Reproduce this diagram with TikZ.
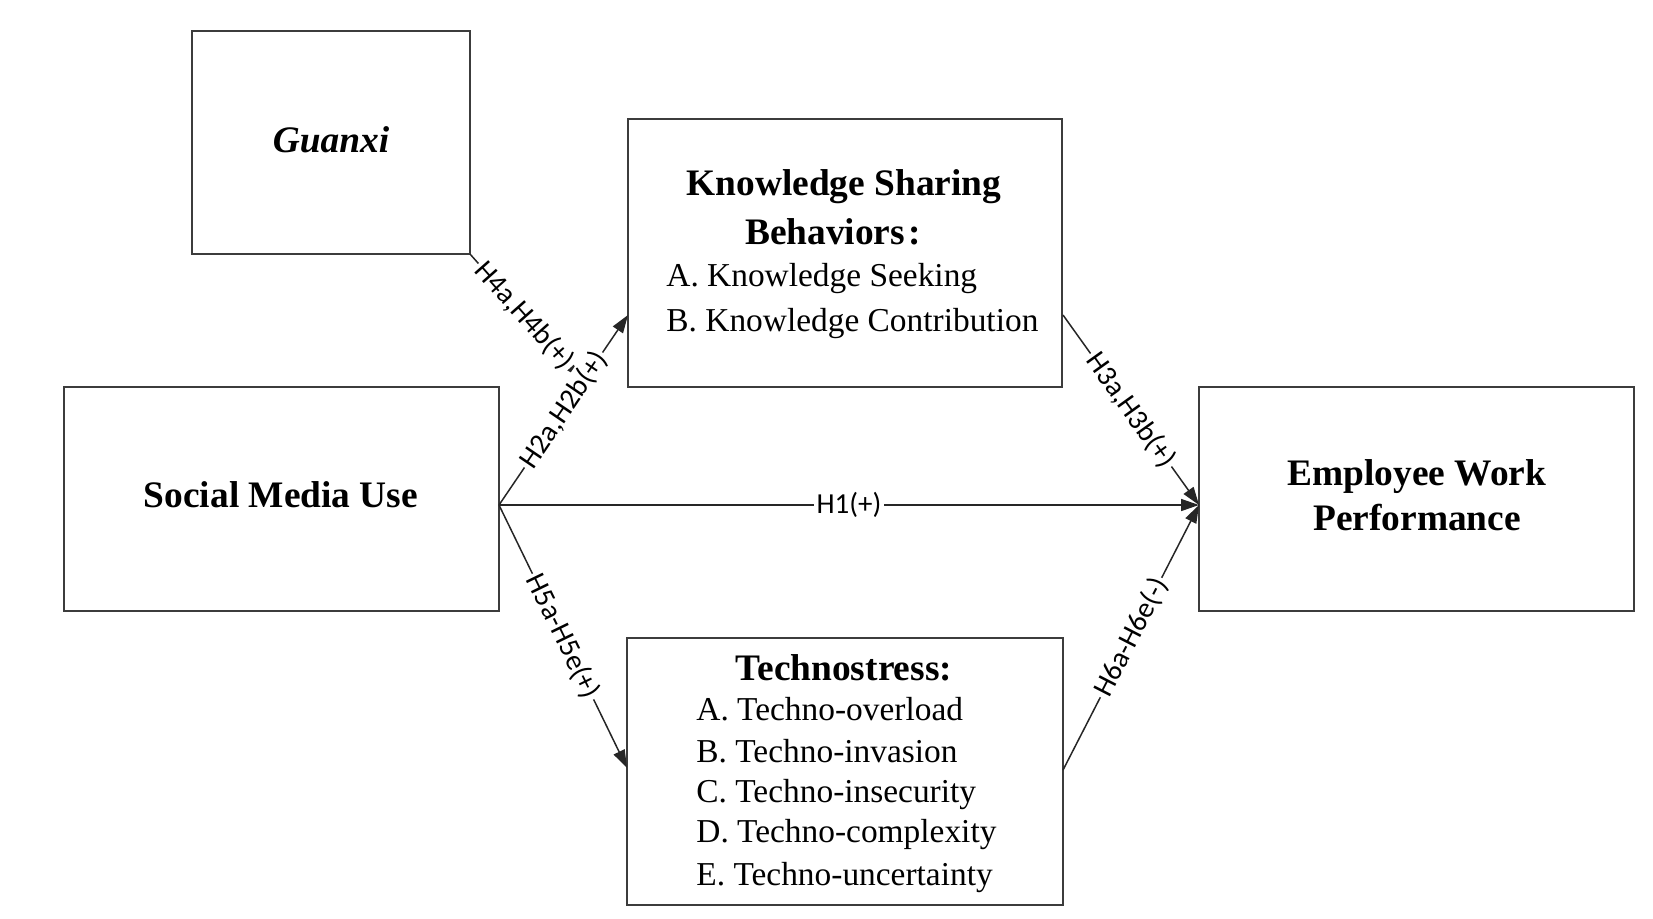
\documentclass[tikz,border=0pt]{standalone}
\usepackage{fontspec}
\setmainfont{Liberation Serif}
\newfontfamily\labfont{Carlito}
\usetikzlibrary{arrows.meta}
\definecolor{boxgray}{HTML}{3C3C3C}
\definecolor{linegray}{HTML}{262626}
\begin{document}
\begin{tikzpicture}[x=0.5pt,y=-0.5pt,
  box/.style={draw=boxgray,line width=1pt,inner sep=0pt,outer sep=0pt,fill=none},
  bt/.style={inner sep=0pt,font=\fontsize{18.7}{22}\selectfont\bfseries},
  rt/.style={inner sep=0pt,font=\fontsize{16.7}{20}\selectfont},
  conn/.style={draw=linegray,line width=0.75pt,-{Triangle[length=9pt,width=6pt]}},
  lab/.style={fill=white,inner sep=1.2pt,font=\labfont\fontsize{14.5}{16}\selectfont,sloped}
]
\useasboundingbox (0,0) rectangle (1653,918);

% boxes
\node[box,minimum width=139pt,minimum height=111.5pt] (gx) at (331,142.5) {};
\node[box,minimum width=217pt,minimum height=134pt] (ksb) at (845,253) {};
\node[box,minimum width=217.5pt,minimum height=112pt] (smu) at (281.5,499) {};
\node[box,minimum width=217.5pt,minimum height=112pt] (ewp) at (1416.5,499) {};
\node[box,minimum width=218pt,minimum height=133.5pt] (ts) at (845,771.5) {};

% texts
\node[bt,anchor=base] (gxt) at (331,152) {\itshape Guanxi};
\node[bt,anchor=base] (ksb1) at (844,195) {Knowledge Sharing};
\node[bt,anchor=base] (ksb2) at (845,244) {Behaviors\kern0.08em:\kern0.65em};
\node[rt,anchor=base west] (ksb3) at (666,286) {A. Knowledge Seeking};
\node[rt,anchor=base west] (ksb4) at (666,331) {B. Knowledge Contribution};
\node[bt,anchor=base] (smut) at (281,507) {Social Media Use};
\node[bt,anchor=base] (ewp1) at (1417,485) {Employee Work};
\node[bt,anchor=base] (ewp2) at (1417,530) {Performance};
\node[bt,anchor=base] (ts0) at (844,680) {Technostress:};
\node[rt,anchor=base west] (ts1) at (696,720) {A. Techno-overload};
\node[rt,anchor=base west] (ts2) at (696,762) {B. Techno-invasion};
\node[rt,anchor=base west] (ts3) at (696,802) {C. Techno-insecurity};
\node[rt,anchor=base west] (ts4) at (696,842) {D. Techno-complexity};
\node[rt,anchor=base west] (ts5) at (696,885) {E. Techno-uncertainty};

% connector end points
\coordinate (smuR) at (499,505);
\coordinate (ksbL) at (628,315);
\coordinate (ksbR) at (1063,315);
\coordinate (tsL) at (627,768);
\coordinate (tsR) at (1063,770);
\coordinate (ewpL) at (1199,505);
\coordinate (gxC) at (gx.south east);
\coordinate (mod) at (579,377);

% connectors
\draw[conn] (gxC) -- node[lab,pos=0.5] (l4) {H4a,H4b(+)} (mod);
\draw[conn] (smuR) -- node[lab,pos=0.5] (l2) {H2a,H2b(+)} (ksbL);
\draw[conn] (smuR) -- node[lab,pos=0.5] (l1) {H1(+)} (ewpL);
\draw[conn] (smuR) -- node[lab,pos=0.5] (l5) {H5a-H5e(+)} (tsL);
\draw[conn] (ksbR) -- node[lab,pos=0.5] (l3) {H3a,H3b(+)} (ewpL);
\draw[conn] (tsR) -- node[lab,pos=0.5] (l6) {H6a-H6e(-)} (ewpL);
\end{tikzpicture}
\end{document}
